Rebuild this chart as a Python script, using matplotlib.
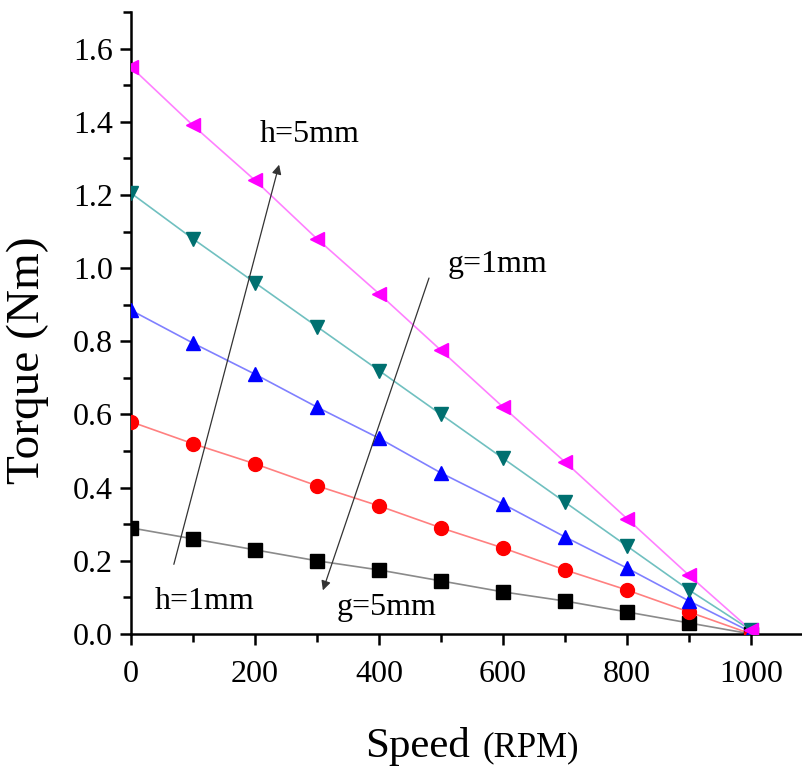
import matplotlib
matplotlib.use("Agg")
import matplotlib.pyplot as plt
from matplotlib.ticker import MultipleLocator

plt.rcParams["font.family"] = ["Liberation Serif", "DejaVu Serif"]

speed = [0, 100, 200, 300, 400, 500, 600, 700, 800, 900, 1000]
torque_h1 = [0.29, 0.26, 0.23, 0.20, 0.175, 0.145, 0.115, 0.09, 0.06, 0.03, 0.0]
torque_h2 = [0.58, 0.52, 0.465, 0.405, 0.35, 0.29, 0.235, 0.175, 0.12, 0.06, 0.0]
torque_h3 = [0.885, 0.795, 0.71, 0.62, 0.535, 0.44, 0.355, 0.265, 0.18, 0.09, 0.005]
torque_h4 = [1.205, 1.08, 0.96, 0.84, 0.72, 0.60, 0.48, 0.36, 0.24, 0.12, 0.01]
torque_h5 = [1.55, 1.39, 1.24, 1.08, 0.93, 0.775, 0.62, 0.47, 0.315, 0.16, 0.01]

series = [
    (torque_h1, "s", "black", "#8a8a8a"),
    (torque_h2, "o", "red", "#ff8080"),
    (torque_h3, "^", "blue", "#8080ff"),
    (torque_h4, "v", "#007070", "#70c0c0"),
    (torque_h5, "<", "magenta", "#ff80ff"),
]

fig = plt.figure(figsize=(8.02, 7.69), dpi=100)
ax = fig.add_axes([0.1633, 0.1756, 0.8367, 0.8088])

for vals, mk, mc, lc in series:
    ax.plot(speed, vals, color=lc, lw=1.2, zorder=2)
    ax.plot(speed, vals, ls="none", marker=mk, ms=10, color=mc, zorder=3)

ax.set_xlim(0, 1082)
ax.set_ylim(0, 1.70)
ax.xaxis.set_major_locator(MultipleLocator(200))
ax.xaxis.set_minor_locator(MultipleLocator(100))
ax.yaxis.set_major_locator(MultipleLocator(0.2))
ax.yaxis.set_minor_locator(MultipleLocator(0.1))
ax.yaxis.set_major_formatter(plt.FuncFormatter(lambda v, p: f"{v:.1f}"))
ax.tick_params(which="both", direction="out", width=1.8, labelsize=23)
ax.tick_params(which="major", length=8)
ax.tick_params(which="minor", length=6)
ax.tick_params(axis="x", pad=11)
ax.tick_params(axis="y", pad=5)
for s in ["top", "right"]:
    ax.spines[s].set_visible(False)
for s in ["left", "bottom"]:
    ax.spines[s].set_linewidth(1.8)

ax.set_ylabel("Torque (Nm)", fontsize=34)
ax.yaxis.set_label_coords(-0.122, 0.44)

fig.text(0.455, 0.016, "Speed", fontsize=31, ha="left", va="baseline")
fig.text(0.602, 0.016, "(RPM)", fontsize=25, ha="left", va="baseline")

arrow = dict(arrowstyle="-|>", color="#333333", lw=0.9, mutation_scale=14)
ax.annotate("", xy=(240, 1.29), xytext=(68, 0.183), arrowprops=arrow)
ax.annotate("", xy=(308, 0.112), xytext=(482, 0.98), arrowprops=arrow)

ax.text(208, 1.366, "h=5mm", fontsize=23, va="center")
ax.text(39, 0.088, "h=1mm", fontsize=23, va="center")
ax.text(511, 1.01, "g=1mm", fontsize=23, va="center")
ax.text(332, 0.071, "g=5mm", fontsize=23, va="center")

fig.savefig("out.png", dpi=100)
